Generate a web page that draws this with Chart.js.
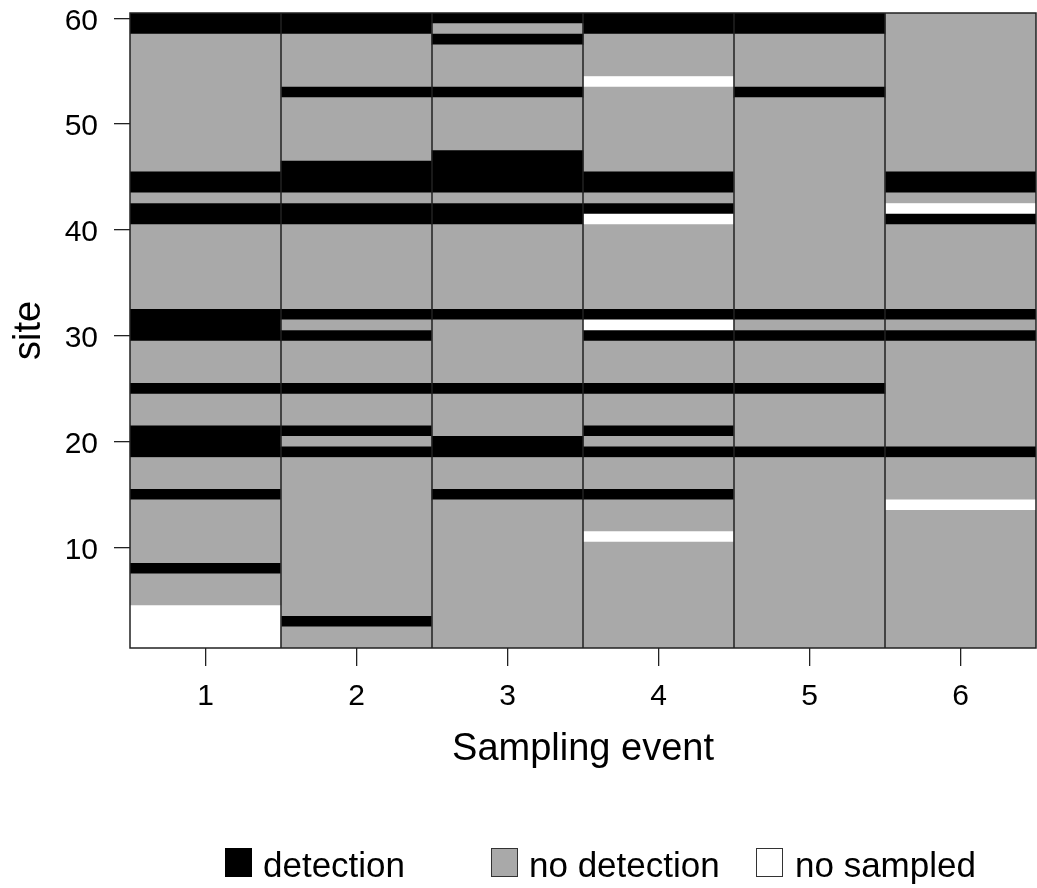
<!DOCTYPE html>
<html>
<head>
<meta charset="utf-8">
<script src="https://cdn.jsdelivr.net/npm/chart.js@4/dist/chart.umd.min.js"></script>
<style>
  body { margin: 0; background: #fff; }
  #wrap { position: relative; width: 1037px; height: 888px; font-family: "Liberation Sans", Arial, sans-serif; }
  #c { position: absolute; left: 0; top: 0; }
  .lg-box { position: absolute; top: 848px; width: 27px; height: 29px; box-sizing: border-box; }
  .lg-txt { position: absolute; top: 847px; font-size: 35px; line-height: 35px; color: #000; white-space: nowrap; }
</style>
</head>
<body>
<div id="wrap">
  <canvas id="c" width="1037" height="888"></canvas>
  <div id="legend"></div>
</div>
<script>
// ---- data ----
const events = ['1', '2', '3', '4', '5', '6'];
const nSites = 60;
const yTicks = [10, 20, 30, 40, 50, 60];

// sites with a detection, per sampling event
const det1 = [8, 15, 19, 20, 21, 25, 30, 31, 32, 41, 42, 44, 45, 59, 60];
const det2 = [3, 19, 21, 25, 30, 32, 41, 42, 44, 45, 46, 53, 59, 60];
const det3 = [15, 19, 20, 25, 32, 41, 42, 44, 45, 46, 47, 53, 58, 60];
const det4 = [15, 19, 21, 25, 30, 32, 42, 44, 45, 59, 60];
const det5 = [19, 25, 30, 32, 53, 59, 60];
const det6 = [19, 30, 32, 41, 44, 45];

// sites not sampled, per sampling event
const ns1 = [1, 2, 3, 4];
const ns2 = [];
const ns3 = [];
const ns4 = [11, 31, 41, 54];
const ns5 = [];
const ns6 = [14, 42];

const statusLabels = ['detection', 'no detection', 'no sampled'];

// ---- styles ----
const fillColors = ['#000000', '#a9a9a9', '#ffffff'];
const FONT = '"Liberation Sans", Arial, sans-serif';
const lineColor = '#222222';

// ---- build runs of equal status per event ----
const detBy = [det1, det2, det3, det4, det5, det6];
const nsBy = [ns1, ns2, ns3, ns4, ns5, ns6];
function statusOf(e, s) {
  if (nsBy[e].includes(s)) return 2;
  if (detBy[e].includes(s)) return 0;
  return 1;
}
const runs = events.map((_, e) => {
  const out = [];
  for (let s = 1; s <= nSites; s++) {
    const st = statusOf(e, s);
    const last = out[out.length - 1];
    if (last && last.st === st) last.hi = s + 0.5;
    else out.push({ st, lo: s - 0.5, hi: s + 0.5 });
  }
  return out;
});
const maxRuns = Math.max(...runs.map(r => r.length));
const datasets = [];
for (let k = 0; k < maxRuns; k++) {
  datasets.push({
    label: 'run ' + k,
    data: runs.map(r => (r[k] ? [r[k].lo, r[k].hi] : null)),
    backgroundColor: runs.map(r => (r[k] ? fillColors[r[k].st] : 'rgba(0,0,0,0)')),
    borderWidth: 0,
    grouped: false,
    barPercentage: 1,
    categoryPercentage: 1
  });
}

// ---- separators and frame ----
const framePlugin = {
  id: 'frame',
  afterDatasetsDraw(chart) {
    const { ctx, chartArea: a, scales: { x } } = chart;
    ctx.save();
    ctx.strokeStyle = lineColor;
    ctx.lineWidth = 1.5;
    ctx.beginPath();
    for (let i = 0; i < events.length - 1; i++) {
      const px = (x.getPixelForTick(i) + x.getPixelForTick(i + 1)) / 2;
      ctx.moveTo(px, a.top);
      ctx.lineTo(px, a.bottom);
    }
    ctx.stroke();
    ctx.strokeRect(a.left, a.top, a.right - a.left, a.bottom - a.top);
    ctx.restore();
  }
};

function noPad(s) {
  s.paddingTop = 0; s.paddingBottom = 0; s.paddingLeft = 0; s.paddingRight = 0;
}

new Chart(document.getElementById('c'), {
  type: 'bar',
  data: { labels: events, datasets },
  options: {
    responsive: false,
    animation: false,
    events: [],
    layout: { autoPadding: false, padding: { left: 0, top: 13, right: 1, bottom: 110 } },
    plugins: { legend: { display: false }, tooltip: { enabled: false } },
    scales: {
      x: {
        type: 'category',
        offset: true,
        grid: { offset: false, drawOnChartArea: false, tickLength: 18, color: lineColor, lineWidth: 1.3 },
        border: { display: false },
        ticks: { color: '#000', padding: 13, font: { family: FONT, size: 30 }, maxRotation: 0 },
        title: { display: true, text: 'Sampling event', color: '#000', font: { family: FONT, size: 38 }, padding: { top: 0, bottom: 6 } },
        afterFit(s) { s.height = 130; noPad(s); }
      },
      y: {
        type: 'linear',
        min: 0.5,
        max: 60.5,
        afterBuildTicks(s) { s.ticks = yTicks.map(v => ({ value: v })); },
        grid: { drawOnChartArea: false, tickLength: 16, color: lineColor, lineWidth: 1.3 },
        border: { display: false },
        ticks: { color: '#000', padding: 16, labelOffset: 3, font: { family: FONT, size: 30 } },
        title: { display: true, text: 'site', color: '#000', font: { family: FONT, size: 38 }, padding: { top: 7, bottom: 0 } },
        afterFit(s) { s.width = 130; noPad(s); }
      }
    }
  },
  plugins: [framePlugin]
});

// ---- legend (HTML text) ----
const legendBoxX = [225, 491, 756];
const legendTxtX = [263, 529, 795];
const legendBorders = ['#000000', '#333333', '#333333'];
const lg = document.getElementById('legend');
statusLabels.forEach((lab, i) => {
  const b = document.createElement('div');
  b.className = 'lg-box';
  b.style.left = legendBoxX[i] + 'px';
  b.style.background = fillColors[i];
  b.style.border = '1.5px solid ' + legendBorders[i];
  lg.appendChild(b);
  const t = document.createElement('div');
  t.className = 'lg-txt';
  t.style.left = legendTxtX[i] + 'px';
  t.textContent = lab;
  lg.appendChild(t);
});
</script>
</body>
</html>
